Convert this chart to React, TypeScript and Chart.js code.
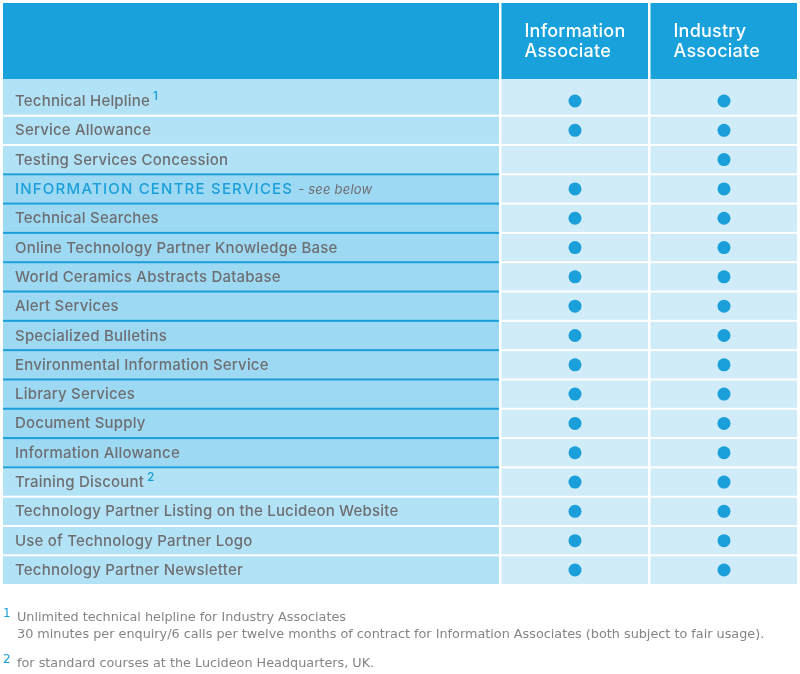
import React, { useEffect, useRef } from 'react';
import { Chart, registerables } from 'chart.js';

Chart.register(...registerables);

// ---------- data ----------
const rowLabels = [
  'Technical Helpline',
  'Service Allowance',
  'Testing Services Concession',
  'INFORMATION CENTRE SERVICES',
  'Technical Searches',
  'Online Technology Partner Knowledge Base',
  'World Ceramics Abstracts Database',
  'Alert Services',
  'Specialized Bulletins',
  'Environmental Information Service',
  'Library Services',
  'Document Supply',
  'Information Allowance',
  'Training Discount',
  'Technology Partner Listing on the Lucideon Website',
  'Use of Technology Partner Logo',
  'Technology Partner Newsletter',
];
const columnTitles = [
  ['Information', 'Associate'],
  ['Industry', 'Associate'],
];
const informationAssociate = [1, 1, 0, 1, 1, 1, 1, 1, 1, 1, 1, 1, 1, 1, 1, 1, 1];
const industryAssociate = [1, 1, 1, 1, 1, 1, 1, 1, 1, 1, 1, 1, 1, 1, 1, 1, 1];
const rowNoteMarks = ['1', '', '', '', '', '', '', '', '', '', '', '', '', '2', '', '', ''];
const sectionHeaderRow = 3;
const sectionNote = '- see below';
const sectionFirstRow = 3;
const sectionLastRow = 12;
const footnoteMarks = ['1', '2'];
const footnoteLines = [
  [
    'Unlimited technical helpline for Industry Associates',
    '30 minutes per enquiry/6 calls per twelve months of contract for Information Associates (both subject to fair usage).',
  ],
  ['for standard courses at the Lucideon Headquarters, UK.'],
];

// ---------- styles ----------
const HEADER_BG = '#19A1DB';
const LEFT_BG = '#B2E2F6';
const SECTION_BG = '#9ED9F3';
const RIGHT_BG = '#CFECF8';
const ACCENT = '#1A9FDA';
const TEXT = '#6E6E71';
const NOTE_TEXT = '#858585';
const LABEL_FONT = '500 15px Inter';
const HEADER_FONT = '500 18px Inter';

const tablePlugin = {
  id: 'tablePlugin',
  beforeDatasetsDraw(chart: any) {
    const { ctx, chartArea: ca, scales } = chart;
    const x = scales.x;
    const y = scales.y;
    const L = ca.left;
    const R = ca.right;
    const c1 = x.getPixelForValue(0.5);
    const c2 = x.getPixelForValue(1.5);
    const headerBottom = y.getPixelForValue(-0.75);
    const colRects = [
      [L, c1 - 1.5],
      [c1 + 1, c2 - 1.5],
      [c2 + 1, R],
    ];
    ctx.save();
    // header
    ctx.fillStyle = HEADER_BG;
    colRects.forEach(([a, b]) => ctx.fillRect(a, ca.top, b - a, headerBottom - ca.top));
    // rows
    const n = rowLabels.length;
    for (let i = 0; i < n; i++) {
      const top = i === 0 ? headerBottom : y.getPixelForValue(i - 0.5) + 1;
      const bottom = i === n - 1 ? ca.bottom : y.getPixelForValue(i + 0.5) - 1;
      const inSection = i >= sectionFirstRow && i <= sectionLastRow;
      ctx.fillStyle = inSection ? SECTION_BG : LEFT_BG;
      if (inSection) {
        const t = y.getPixelForValue(i - 0.5);
        const b = y.getPixelForValue(i + 0.5);
        ctx.fillRect(colRects[0][0], t, colRects[0][1] - colRects[0][0], b - t);
      } else {
        ctx.fillRect(colRects[0][0], top, colRects[0][1] - colRects[0][0], bottom - top);
      }
      ctx.fillStyle = RIGHT_BG;
      for (let c = 1; c < 3; c++) {
        ctx.fillRect(colRects[c][0], top, colRects[c][1] - colRects[c][0], bottom - top);
      }
    }
    // section separators (blue)
    ctx.fillStyle = ACCENT;
    for (let i = sectionFirstRow; i <= sectionLastRow + 1; i++) {
      const yy = y.getPixelForValue(i - 0.5);
      ctx.fillRect(colRects[0][0], yy - 1, colRects[0][1] - colRects[0][0], 2);
    }

    // header titles
    ctx.fillStyle = '#FFFFFF';
    ctx.font = HEADER_FONT;
    ctx.textBaseline = 'middle';
    ctx.textAlign = 'left';
    ctx.letterSpacing = '0.2px';
    columnTitles.forEach((lines, c) => {
      const tx = colRects[c + 1][0] + 23;
      lines.forEach((ln, k) => {
        ctx.fillText(ln, tx, y.getPixelForValue(-2.37 + k * 0.68));
      });
    });

    // row labels
    rowLabels.forEach((label, i) => {
      const yy = y.getPixelForValue(i) + 0.5;
      let tx = L + 12;
      if (i === sectionHeaderRow) {
        ctx.font = LABEL_FONT;
        ctx.letterSpacing = '1.2px';
        ctx.fillStyle = ACCENT;
        ctx.fillText(label, tx, yy);
        tx += ctx.measureText(label).width + 5;
        ctx.letterSpacing = '0.2px';
        ctx.font = 'italic 13px Inter';
        ctx.fillStyle = TEXT;
        ctx.fillText(sectionNote, tx, yy + 1);
      } else {
        ctx.font = LABEL_FONT;
        ctx.letterSpacing = '0.2px';
        ctx.fillStyle = TEXT;
        ctx.fillText(label, tx, yy);
        if (rowNoteMarks[i]) {
          tx += ctx.measureText(label).width + 3;
          ctx.font = '500 12px Inter';
          ctx.fillStyle = ACCENT;
          ctx.fillText(rowNoteMarks[i], tx, yy - 5);
        }
      }
    });

    // footnotes
    ctx.letterSpacing = '0px';
    const fnY = [618, 664];
    footnoteMarks.forEach((m, f) => {
      ctx.font = '12px DejaVu Sans';
      ctx.fillStyle = ACCENT;
      ctx.fillText(m, 3, fnY[f] - 4);
      ctx.font = '12.8px DejaVu Sans';
      ctx.fillStyle = NOTE_TEXT;
      footnoteLines[f].forEach((ln, k) => {
        ctx.fillText(ln, 17, fnY[f] + k * 17);
      });
    });
    ctx.restore();
  },
};

export default function App() {
  const canvasRef = useRef<HTMLCanvasElement | null>(null);

  useEffect(() => {
    const canvas = canvasRef.current;
    if (!canvas) return;
    const toPoints = (vals: number[], col: number) =>
      vals
        .map((v, i) => (v ? { x: col, y: i } : null))
        .filter((p) => p !== null);
    const chart = new Chart(canvas, {
      type: 'scatter',
      data: {
        datasets: [
          {
            label: columnTitles[0].join(' '),
            data: toPoints(informationAssociate, 1) as any,
            pointRadius: 6.5,
            pointHoverRadius: 6.5,
            pointBackgroundColor: ACCENT,
            pointBorderWidth: 0,
          },
          {
            label: columnTitles[1].join(' '),
            data: toPoints(industryAssociate, 2) as any,
            pointRadius: 6.5,
            pointHoverRadius: 6.5,
            pointBackgroundColor: ACCENT,
            pointBorderWidth: 0,
          },
        ],
      },
      options: {
        responsive: false,
        animation: false,
        events: [],
        layout: { autoPadding: false, padding: { left: 3, right: 3, top: 3, bottom: 90 } },
        plugins: {
          legend: { display: false },
          tooltip: { enabled: false },
        },
        scales: {
          x: { type: 'linear', display: false, min: -2.839, max: 2.49 },
          y: { type: 'linear', display: false, reverse: true, min: -3.343, max: 16.478 },
        },
      },
      plugins: [tablePlugin],
    });
    return () => chart.destroy();
  }, []);

  return (
    <div style={{ position: 'absolute', left: 0, top: 0, width: 800, height: 674, background: '#fff' }}>
      <canvas ref={canvasRef} width={800} height={674} style={{ display: 'block' }} />
    </div>
  );
}
